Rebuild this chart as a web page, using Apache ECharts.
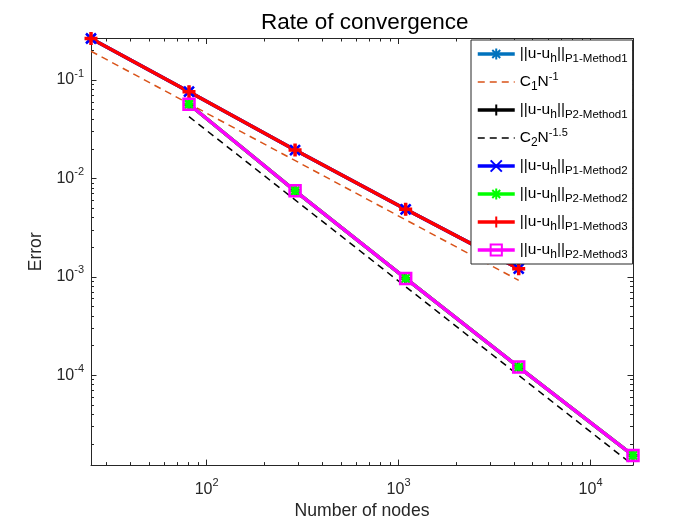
<!DOCTYPE html>
<html><head><meta charset="utf-8">
<script src="https://cdn.jsdelivr.net/npm/echarts@6/dist/echarts.min.js"></script>
<style>html,body{margin:0;padding:0;background:#fff}#c{width:700px;height:525px}</style>
</head><body><div id="c"></div>
<script>
// ---- data ----
const nodesP1 = [25, 81, 289, 1089, 4225];
const nodesP2 = [81, 289, 1089, 4225, 16641];
const errP1Method1 = [0.264, 0.076, 0.0194, 0.00485, 0.00121];
const errP2Method1 = [0.0567, 0.00748, 0.000962, 0.000121, 1.53e-5];
const errP1Method2 = [0.264, 0.076, 0.0194, 0.00485, 0.00121];
const errP2Method2 = [0.0567, 0.00748, 0.000962, 0.000121, 1.53e-5];
const errP1Method3 = [0.264, 0.076, 0.0194, 0.00485, 0.00121];
const errP2Method3 = [0.0567, 0.00748, 0.000962, 0.000121, 1.53e-5];
const nodesC1 = [25, 4225];
const refC1 = [0.196, 0.00092];
const nodesC2 = [81, 16641];
const refC2 = [0.0424, 1.22e-5];
const xRange = [25, 16641];
const yRange = [1.22e-5, 0.264];
const xMajorTicks = [100, 1000, 10000];
const xMinorTicks = [30, 40, 50, 60, 70, 80, 90, 200, 300, 400, 500, 600, 700, 800, 900,
  2000, 3000, 4000, 5000, 6000, 7000, 8000, 9000];
const yMajorTicks = [1e-4, 1e-3, 1e-2, 1e-1];
const yMinorTicks = [2e-5, 3e-5, 4e-5, 5e-5, 6e-5, 7e-5, 8e-5, 9e-5,
  2e-4, 3e-4, 4e-4, 5e-4, 6e-4, 7e-4, 8e-4, 9e-4,
  2e-3, 3e-3, 4e-3, 5e-3, 6e-3, 7e-3, 8e-3, 9e-3,
  2e-2, 3e-2, 4e-2, 5e-2, 6e-2, 7e-2, 8e-2, 9e-2, 2e-1];
const seriesNames = ['P1-Method1', 'C1', 'P2-Method1', 'C2', 'P1-Method2', 'P2-Method2', 'P1-Method3', 'P2-Method3'];
const legendLabels = {
  'P1-Method1': '||u-u{sub|h}||{sub2|P1-Method1}',
  'C1': 'C{sub|1}N{sup|-1}',
  'P2-Method1': '||u-u{sub|h}||{sub2|P2-Method1}',
  'C2': 'C{sub|2}N{sup|-1.5}',
  'P1-Method2': '||u-u{sub|h}||{sub2|P1-Method2}',
  'P2-Method2': '||u-u{sub|h}||{sub2|P2-Method2}',
  'P1-Method3': '||u-u{sub|h}||{sub2|P1-Method3}',
  'P2-Method3': '||u-u{sub|h}||{sub2|P2-Method3}'
};

const FONT = 'Liberation Sans, Arial, Helvetica, sans-serif';
const AX = '#262626';
const CLEAR = 'rgba(0,0,0,0)';
const pair = (xs, ys) => xs.map((x, i) => [x, ys[i]]);

const asterisk = 'path://M0,-10L0,10M-10,0L10,0M-7.07,-7.07L7.07,7.07M-7.07,7.07L7.07,-7.07';
const plus = 'path://M0,-10L0,10M-10,0L10,0';
const cross = 'path://M-10,-10L10,10M-10,10L10,-10';

function expLabel(v) {
  const e = Math.round(Math.log10(v));
  return '{b|10}{sup|' + e + '}';
}
const labelRich = {
  b: {fontSize: 16, lineHeight: 24, fontFamily: FONT, color: AX},
  sup: {fontSize: 11, lineHeight: 12, verticalAlign: 'top', fontFamily: FONT, color: AX}
};

// kind: 'main' (line, major ticks, labels, name), 'major' (ticks only), 'minor' (short ticks only)
function makeAxis(isX, pos, kind) {
  const r = isX ? xRange : yRange;
  const ticks = kind === 'minor' ? (isX ? xMinorTicks : yMinorTicks) : (isX ? xMajorTicks : yMajorTicks);
  const main = kind === 'main';
  return {
    type: 'log', logBase: 10, position: pos, min: r[0], max: r[1],
    axisLine: {show: kind !== 'minor', onZero: false, lineStyle: {color: AX, width: 1}},
    axisTick: {show: true, inside: true, customValues: ticks, length: kind === 'minor' ? 3 : 5.5,
      lineStyle: {color: AX, width: 1}},
    minorTick: {show: false},
    splitLine: {show: false}, minorSplitLine: {show: false},
    axisLabel: {
      show: main, customValues: isX ? xMajorTicks : yMajorTicks,
      formatter: expLabel, rich: labelRich, margin: isX ? 12 : 7
    },
    name: main ? (isX ? 'Number of nodes' : 'Error') : '',
    nameLocation: 'middle',
    nameGap: isX ? 36 : 44,
    nameTextStyle: {fontSize: 17.6, fontFamily: FONT, color: AX}
  };
}

function lineSeries(name, xs, ys, color, width, symbol, size, bw, opts) {
  return Object.assign({
    name: name, type: 'line', data: pair(xs, ys),
    xAxisIndex: 0, yAxisIndex: 0,
    symbol: symbol, symbolSize: size, showSymbol: true,
    lineStyle: {color: color, width: width},
    itemStyle: {color: color, borderColor: color, borderWidth: bw},
    emphasis: {disabled: true}
  }, opts || {});
}

function refSeries(name, xs, ys, color) {
  return lineSeries(name, xs, ys, color, 1.5, 'rect', 4, 0, {
    showSymbol: false,
    lineStyle: {color: color, width: 1.5, type: [7, 5]},
    itemStyle: {color: CLEAR, borderColor: CLEAR, borderWidth: 0}
  });
}

const series = [
  lineSeries('P1-Method1', nodesP1, errP1Method1, '#0072BD', 3.5, asterisk, 12, 2),
  refSeries('C1', nodesC1, refC1, '#D95319'),
  lineSeries('P2-Method1', nodesP2, errP2Method1, '#000000', 3.5, plus, 12, 3),
  refSeries('C2', nodesC2, refC2, '#000000'),
  lineSeries('P1-Method2', nodesP1, errP1Method2, '#0000FF', 3.5, cross, 10, 2.5),
  lineSeries('P2-Method2', nodesP2, errP2Method2, '#00FF00', 3.5, asterisk, 12, 2.5),
  lineSeries('P1-Method3', nodesP1, errP1Method3, '#FF0000', 3.5, plus, 13, 3.5),
  lineSeries('P2-Method3', nodesP2, errP2Method3, '#FF00FF', 3.5, 'rect', 11, 2.5,
    {itemStyle: {color: CLEAR, borderColor: '#FF00FF', borderWidth: 2.5}})
];

const chart = echarts.init(document.getElementById('c'), null, {renderer: 'canvas'});
chart.setOption({
  animation: false,
  backgroundColor: '#ffffff',
  title: {
    text: 'Rate of convergence', left: 256, top: 6,
    textStyle: {fontSize: 22.5, fontWeight: 'normal', fontFamily: FONT, color: '#000'}
  },
  grid: {left: 91, right: 67, top: 38.5, bottom: 59.5, containLabel: false},
  xAxis: [
    makeAxis(true, 'bottom', 'main'),
    makeAxis(true, 'bottom', 'minor'),
    makeAxis(true, 'top', 'major'),
    makeAxis(true, 'top', 'minor')
  ],
  yAxis: [
    makeAxis(false, 'left', 'main'),
    makeAxis(false, 'left', 'minor'),
    makeAxis(false, 'right', 'major'),
    makeAxis(false, 'right', 'minor')
  ],
  legend: {
    data: seriesNames, orient: 'vertical', left: 471, top: 40,
    padding: [3, 5, 3, 5], itemGap: 6, itemWidth: 37, itemHeight: 14,
    backgroundColor: '#fff', borderColor: AX, borderWidth: 1, borderRadius: 0,
    lineStyle: {width: 'inherit'},
    formatter: n => legendLabels[n],
    textStyle: {
      fontSize: 15.5, fontFamily: FONT, color: '#000', lineHeight: 22,
      rich: {
        sub: {fontSize: 12, lineHeight: 12, verticalAlign: 'bottom', fontFamily: FONT, color: '#000'},
        sub2: {fontSize: 11.5, lineHeight: 12, verticalAlign: 'bottom', fontFamily: FONT, color: '#000'},
        sup: {fontSize: 11, lineHeight: 12, verticalAlign: 'top', fontFamily: FONT, color: '#000'}
      }
    }
  },
  series: series
});
</script></body></html>
